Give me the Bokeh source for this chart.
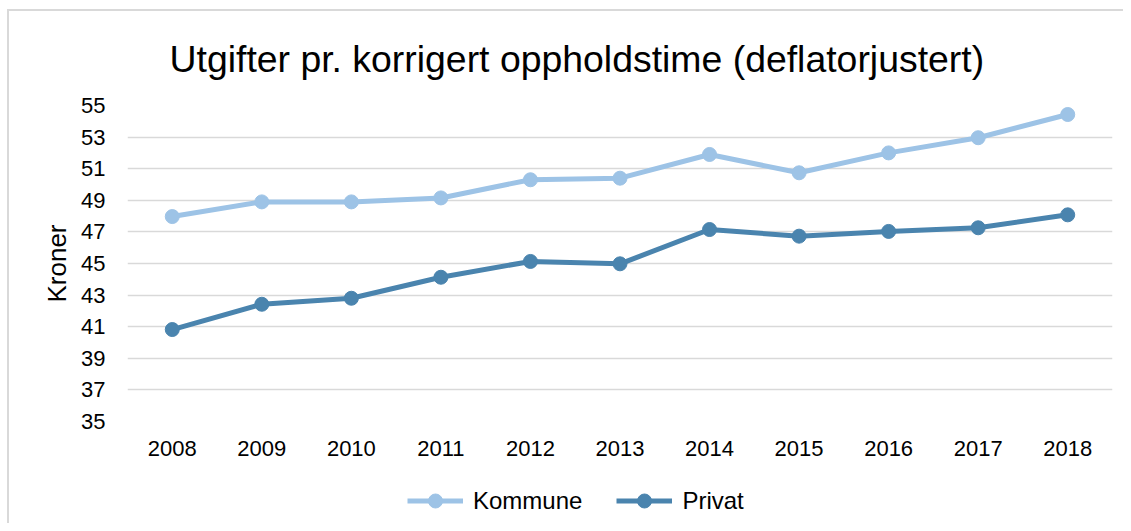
from bokeh.plotting import figure
from bokeh.models import FixedTicker, Legend, LegendItem, FactorRange, Range1d
from bokeh.layouts import column
from bokeh.embed import file_html
from bokeh.resources import INLINE

years = ["2008", "2009", "2010", "2011", "2012", "2013", "2014", "2015", "2016", "2017", "2018"]
kommune = [47.97, 48.90, 48.90, 49.15, 50.30, 50.40, 51.90, 50.74, 52.00, 52.96, 54.43]
privat = [40.82, 42.42, 42.80, 44.13, 45.13, 44.98, 47.15, 46.73, 47.03, 47.26, 48.08]
y_ticks = [35, 37, 39, 41, 43, 45, 47, 49, 51, 53, 55]
title_text = "Utgifter pr. korrigert oppholdstime (deflatorjustert)"
y_label = "Kroner"
series_names = ["Kommune", "Privat"]

C_LIGHT = "#9DC3E6"
C_DARK = "#4A84AE"
FONT = "Liberation Sans"

p = figure(width=1123, height=463, x_range=FactorRange(*years), y_range=Range1d(35, 55),
           output_backend="svg", toolbar_location=None,
           min_border_left=127, min_border_right=11, min_border_top=105, min_border_bottom=42)
p.outline_line_color = None
p.background_fill_color = "white"
p.border_fill_alpha = 0

p.title.text = title_text
p.title.text_font = FONT
p.title.text_font_size = "37.4px"
p.title.text_font_style = "normal"
p.title.text_color = "#000000"
p.title.align = "left"
p.title.offset = 42
p.title.standoff = 51

# axes
p.yaxis.ticker = FixedTicker(ticks=y_ticks)
p.yaxis.axis_line_color = None
p.yaxis.major_tick_line_color = None
p.yaxis.minor_tick_line_color = None
p.yaxis.major_tick_out = 0
p.yaxis.major_label_standoff = 22
p.yaxis.major_label_text_font = FONT
p.yaxis.major_label_text_font_size = "22px"
p.yaxis.major_label_text_color = "#000000"
p.yaxis.axis_label = y_label
p.yaxis.axis_label_text_font = FONT
p.yaxis.axis_label_text_font_size = "26px"
p.yaxis.axis_label_text_font_style = "normal"
p.yaxis.axis_label_text_color = "#000000"
p.yaxis.axis_label_standoff = 6

p.xaxis.axis_line_color = None
p.xaxis.major_tick_line_color = None
p.xaxis.major_tick_out = 0
p.xaxis.major_label_standoff = 19
p.xaxis.major_label_text_font = FONT
p.xaxis.major_label_text_font_size = "22px"
p.xaxis.major_label_text_color = "#000000"

p.xgrid.grid_line_color = None
p.ygrid.grid_line_color = "#D9D9D9"
p.ygrid.grid_line_width = 1.5

# series
p.line(years, kommune, line_color=C_LIGHT, line_width=5)
p.scatter(years, kommune, size=14, fill_color=C_LIGHT, line_color=C_LIGHT)
p.line(years, privat, line_color=C_DARK, line_width=5)
p.scatter(years, privat, size=14, fill_color=C_DARK, line_color=C_DARK)

# legend strip (separate figure so the legend is not clipped)
lg = figure(width=1123, height=60, x_range=Range1d(0, 1), y_range=Range1d(0, 1),
            output_backend="svg", toolbar_location=None,
            min_border_left=0, min_border_right=0, min_border_top=0, min_border_bottom=0)
lg.axis.visible = False
lg.grid.visible = False
lg.outline_line_color = None
lg.border_fill_alpha = 0
lg.background_fill_alpha = 0
# legend proxies placed outside the visible range
e1 = lg.line([5, 6], [5, 5], line_color=C_LIGHT, line_width=5)
s1 = lg.scatter([5], [5], size=14, fill_color=C_LIGHT, line_color=C_LIGHT)
e2 = lg.line([5, 6], [5, 5], line_color=C_DARK, line_width=5)
s2 = lg.scatter([5], [5], size=14, fill_color=C_DARK, line_color=C_DARK)
legend = Legend(items=[LegendItem(label=series_names[0], renderers=[e1, s1]),
                       LegendItem(label=series_names[1], renderers=[e2, s2])],
                orientation="horizontal", location=(280, 5),
                glyph_width=56, glyph_height=35, label_standoff=10, spacing=34,
                padding=0, margin=0, border_line_color=None, background_fill_alpha=0,
                label_text_font=FONT, label_text_font_size="24px", label_text_color="#000000")
lg.add_layout(legend, "center")

layout = column(p, lg, spacing=0,
                styles={"background": "white",
                        "box-shadow": "inset 7px 9px 0 #FFFFFF, inset 9px 11px 0 #D9D9D9"})
open("out.html", "w").write(file_html(layout, INLINE))
